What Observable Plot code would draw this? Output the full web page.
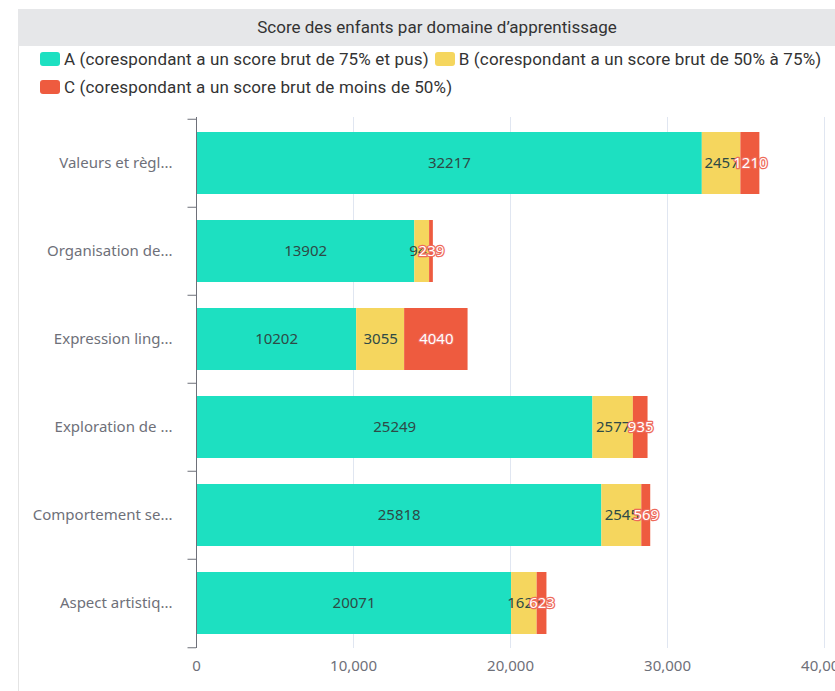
<!DOCTYPE html>
<html>
<head>
<meta charset="utf-8">
<script src="https://cdn.jsdelivr.net/npm/d3@7"></script>
<script src="https://cdn.jsdelivr.net/npm/@observablehq/plot@0.6"></script>
<style>
  html, body { margin: 0; padding: 0; background: #fff; width: 835px; height: 691px; overflow: hidden; position: relative; }
  #frame { position: absolute; left: 18px; top: 46px; width: 0; height: 660px; border-left: 1px solid #e4e4e4; }
  #title { position: absolute; left: 18px; top: 9px; width: 838px; height: 37px; background: #e6e7e9;
           font-family: Roboto, sans-serif; font-size: 17px; color: #333; text-align: center; line-height: 37px; }
  #legend { position: absolute; left: 40px; top: 46px; width: 795px; font-family: Roboto, sans-serif; font-size: 17px; letter-spacing: 0.15px; color: #333; white-space: nowrap; }
  .item { display: inline-flex; align-items: center; height: 26px; margin-bottom: 2px; margin-right: 6px; }
  .sw { width: 20px; height: 14px; border-radius: 3px; margin-right: 4px; }
  #chart { position: absolute; left: 0; top: 105px; }
</style>
</head>
<body>
<div id="frame"></div>
<div id="title"></div>
<div id="legend"></div>
<div id="chart"></div>
<script>
const titleText = "Score des enfants par domaine d’apprentissage";
const categories = ["Valeurs et règl...", "Organisation de...", "Expression ling...", "Exploration de ...", "Comportement se...", "Aspect artistiq..."];
const series = ["A (corespondant a un score brut de 75% et pus)", "B (corespondant a un score brut de 50% à 75%)", "C (corespondant a un score brut de moins de 50%)"];
const colors = ["#1de0c1", "#f5d65e", "#ee5b3f"];
const valuesA = [32217, 13902, 10202, 25249, 25818, 20071];
const valuesB = [2457, 945, 3055, 2577, 2545, 1627];
const valuesC = [1210, 239, 4040, 935, 569, 623];
const xTicks = [0, 10000, 20000, 30000, 40000];

document.getElementById("title").textContent = titleText;
const legend = document.getElementById("legend");
series.forEach((s, i) => {
  const it = document.createElement("span");
  it.className = "item";
  const sw = document.createElement("span");
  sw.className = "sw";
  sw.style.background = colors[i];
  const tx = document.createElement("span");
  tx.textContent = s;
  it.appendChild(sw); it.appendChild(tx);
  legend.appendChild(it);
  if (i === 1) legend.appendChild(document.createElement("br"));
});

const allValues = [valuesA, valuesB, valuesC];
const data = [];
series.forEach((s, si) => categories.forEach((c, ci) => data.push({cat: c, series: s, value: allValues[si][ci]})));

const W = 835, H = 586, mt = 12, mb = 43, ml = 196, mr = 11;
const step = (H - mt - mb) / categories.length;

const stackOpts = {x: "value", y: "cat", z: "series", order: series};
const label = d => String(d.value);

const svg = Plot.plot({
  width: W, height: H,
  marginLeft: ml, marginRight: mr, marginTop: mt, marginBottom: mb,
  style: {fontFamily: "'Noto Sans', sans-serif", fontSize: "15px", color: "#6e7079", background: "transparent", overflow: "visible"},
  x: {domain: [0, 40000], ticks: xTicks, tickFormat: d3.format(","), tickSize: 0, tickPadding: 12, label: null},
  y: {domain: categories, paddingInner: 0.3, paddingOuter: 0.15, tickSize: 0, tickPadding: 24, label: null},
  color: {domain: series, range: colors},
  marks: [
    Plot.ruleX(xTicks.slice(1), {stroke: "#e0e6f1", strokeWidth: 1}),
    Plot.barX(data, Plot.stackX({...stackOpts, fill: "series"})),
    Plot.text(data, Plot.filter(d => d.series !== series[2], Plot.stackX({...stackOpts, text: label, fill: "#2e4a46", fontSize: 15}))),
    Plot.text(data, Plot.filter(d => d.series === series[2], Plot.stackX({...stackOpts, text: label, fill: "#fff", stroke: "#ee6a5a", strokeWidth: 2.5, paintOrder: "stroke", fontSize: 15}))),
    Plot.ruleX([0], {stroke: "#6e7079", strokeWidth: 1}),
    Plot.ruleY(categories, {y: d => d, x1: -540, x2: 0, dy: -step / 2, stroke: "#6e7079"}),
    Plot.ruleY(categories.slice(-1), {y: d => d, x1: -540, x2: 0, dy: step / 2, stroke: "#6e7079"})
  ]
});
document.getElementById("chart").appendChild(svg);
</script>
</body>
</html>
